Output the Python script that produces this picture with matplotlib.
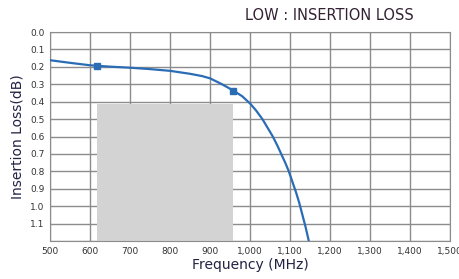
import matplotlib.pyplot as plt
import numpy as np
from matplotlib.ticker import FuncFormatter

# curve
freq = [500, 550, 600, 650, 700, 750, 800, 850, 880, 900, 930, 958, 980,
        1000, 1015, 1031, 1044, 1057, 1068, 1078, 1088, 1097, 1106, 1115,
        1123, 1131, 1139, 1147]
loss = [0.162, 0.177, 0.191, 0.199, 0.205, 0.213, 0.223, 0.240, 0.253,
        0.266, 0.30, 0.336, 0.368, 0.41, 0.45, 0.50, 0.55, 0.60, 0.65,
        0.70, 0.75, 0.80, 0.86, 0.92, 0.98, 1.05, 1.12, 1.20]
mark_freq = [617, 958]
mark_loss = [0.194, 0.336]
# shaded spec region
box_f = [617, 958]
box_loss = [0.415, 1.2]

fig = plt.figure(figsize=(4.6, 2.79), dpi=100)
ax = fig.add_axes([50 / 460, 38 / 279, 400 / 460, 209 / 279])

ax.fill_between(box_f, box_loss[0], box_loss[1], color="#d3d3d3", lw=0, zorder=2)
ax.plot(freq, loss, color="#2a6db5", lw=1.6, zorder=3)
ax.plot(mark_freq, mark_loss, "s", color="#2a6db5", ms=5, zorder=4)

ax.set_xlim(500, 1500)
ax.set_ylim(1.2, 0.0)
ax.set_xticks(np.arange(500, 1501, 100))
ax.set_yticks(np.arange(0, 1.21, 0.1))
ax.xaxis.set_major_formatter(FuncFormatter(lambda v, p: f"{int(v):,}"))
ax.yaxis.set_major_formatter(FuncFormatter(lambda v, p: "" if v > 1.15 else f"{v:.1f}"))
ax.grid(True, color="#8c8c8c", lw=1.0, zorder=1)
ax.set_axisbelow(True)
for s in ax.spines.values():
    s.set_color("#8c8c8c")
ax.tick_params(length=0, labelsize=6.5, colors="#333333", pad=4)

ax.set_xlabel("Frequency (MHz)", fontsize=10, color="#222244", labelpad=2)
ax.set_ylabel("Insertion Loss(dB)", fontsize=10, color="#222244", labelpad=4)
fig.text(0.717, 0.943, "LOW : INSERTION LOSS", fontsize=10.5, color="#332233",
         ha="center", va="center")

fig.savefig("out.png")
